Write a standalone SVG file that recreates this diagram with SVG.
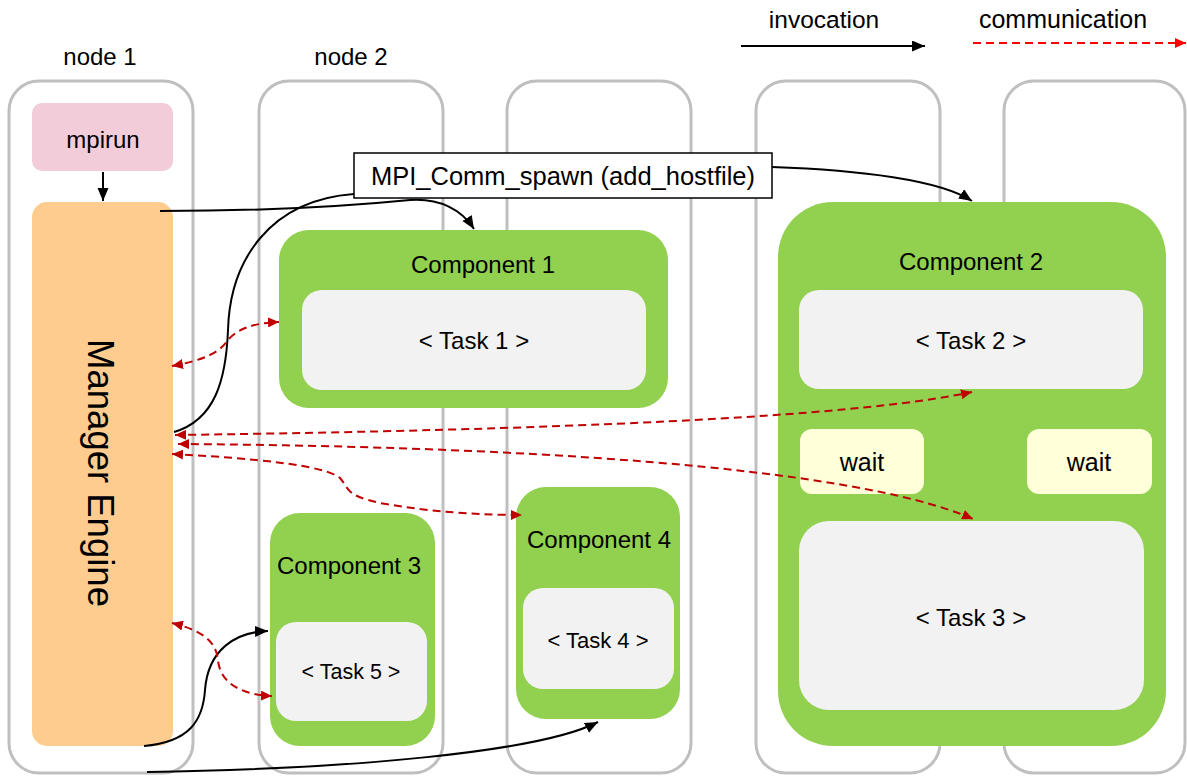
<svg xmlns="http://www.w3.org/2000/svg" width="1187" height="776" viewBox="0 0 1187 776">
<style>
  text { font-family: "Liberation Sans", Arial, sans-serif; fill: #000; text-anchor: middle; }
  .col { fill: #fff; stroke: #BFBFBF; stroke-width: 3; }
  .comp { fill: #92D050; }
  .task { fill: #F2F2F2; }
  .wait { fill: #FFFFD9; }
  .inv { fill: none; stroke: #000; stroke-width: 2; }
  .com { fill: none; stroke: #C00000; stroke-width: 2; stroke-dasharray: 8 5; }
  .t24 { font-size: 24px; }
</style>
<defs>
  <marker id="ab" markerUnits="userSpaceOnUse" markerWidth="14" markerHeight="12" refX="13" refY="5.5" orient="auto-start-reverse" viewBox="0 0 14 12">
    <path d="M0,0 L13,5.5 L0,11 Z" fill="#000"/>
  </marker>
  <marker id="ar" markerUnits="userSpaceOnUse" markerWidth="12" markerHeight="10" refX="11" refY="5" orient="auto-start-reverse" viewBox="0 0 12 10">
    <path d="M0,0 L11,5 L0,10 Z" fill="#C00000"/>
  </marker>
  <marker id="arl" markerUnits="userSpaceOnUse" markerWidth="12" markerHeight="10" refX="11" refY="5" orient="auto" viewBox="0 0 12 10">
    <path d="M0,0 L11,5 L0,10 Z" fill="#FF0000"/>
  </marker>
</defs>

<g id="legend">
  <text x="824" y="28" class="t24" style="font-size:24.5px">invocation</text>
  <path d="M741,46 L925,46" class="inv" marker-end="url(#ab)"/>
  <text x="1063" y="28" class="t24" style="font-size:25px">communication</text>
  <path d="M973,43 L1186,43" fill="none" stroke="#FF0000" stroke-width="2" stroke-dasharray="8 5" marker-end="url(#arl)"/>
</g>

<g id="node1">
  <text x="100" y="65" class="t24">node 1</text>
  <rect x="9" y="81" width="184" height="692" rx="30" class="col"/>
</g>
<g id="node2">
  <text x="351" y="65" class="t24">node 2</text>
  <rect x="259" y="81" width="184" height="692" rx="30" class="col"/>
</g>
<g id="node3">
  <rect x="507" y="81" width="184" height="692" rx="30" class="col"/>
</g>
<g id="node4">
  <rect x="756" y="81" width="184" height="692" rx="30" class="col"/>
</g>
<g id="node5">
  <rect x="1004" y="81" width="181" height="692" rx="30" class="col"/>
</g>

<g id="mpirun">
  <rect x="32" y="103" width="141" height="68" rx="10" fill="#F2CCD9"/>
  <text x="103" y="148" class="t24">mpirun</text>
</g>

<g id="manager">
  <rect x="32" y="202" width="141" height="544" rx="15" fill="#FFCC8F"/>
  <text x="0" y="0" transform="translate(88,473) rotate(90)" style="font-size:36.5px">Manager Engine</text>
</g>

<g id="component1">
  <rect x="279" y="230" width="389" height="178" rx="30" class="comp"/>
  <text x="483" y="273" class="t24">Component 1</text>
  <rect x="302" y="290" width="344" height="100" rx="20" class="task"/>
  <text x="474" y="349" class="t24">&lt; Task 1 &gt;</text>
</g>

<g id="component2">
  <rect x="778" y="202" width="388" height="544" rx="55" class="comp"/>
  <text x="971" y="270" class="t24">Component 2</text>
  <rect x="799" y="290" width="344" height="99" rx="20" class="task"/>
  <text x="971" y="349" class="t24">&lt; Task 2 &gt;</text>
  <rect x="800" y="429" width="124" height="65" rx="12" class="wait"/>
  <text x="862" y="471" style="font-size:25px">wait</text>
  <rect x="1027" y="429" width="125" height="65" rx="12" class="wait"/>
  <text x="1089" y="471" style="font-size:25px">wait</text>
  <rect x="799" y="521" width="345" height="189" rx="30" class="task"/>
  <text x="971" y="626" class="t24">&lt; Task 3 &gt;</text>
</g>

<g id="component3">
  <rect x="270" y="513" width="165" height="233" rx="30" class="comp"/>
  <text x="349" y="574" class="t24">Component 3</text>
  <rect x="276" y="622" width="151" height="99" rx="20" class="task"/>
  <text x="351" y="679" style="font-size:21.5px">&lt; Task 5 &gt;</text>
</g>

<g id="component4">
  <rect x="516" y="487" width="164" height="232" rx="30" class="comp"/>
  <text x="599" y="548" class="t24">Component 4</text>
  <rect x="523" y="588" width="151" height="101" rx="20" class="task"/>
  <text x="598" y="648" style="font-size:22px">&lt; Task 4 &gt;</text>
</g>

<g id="connectors">
  <path d="M103,172 L103,201" class="inv" marker-end="url(#ab)"/>
  <path d="M160,211 C 280,211 360,205 410,200 C 440,198 462,210 474,229" class="inv" marker-end="url(#ab)"/>
  <path d="M174,432 C 215,420 226,380 228,330 C 230,260 270,200 354,194" class="inv"/>
  <path d="M772,167 C 860,170 940,180 972,201" class="inv" marker-end="url(#ab)"/>
  <path d="M144,746 C 190,742 203,720 205,690 C 208,650 235,632 268,631" class="inv" marker-end="url(#ab)"/>
  <path d="M147,772 C 350,769 540,752 598,722" class="inv" marker-end="url(#ab)"/>

  <path d="M172,366 C 205,360 220,352 228,340 C 238,328 255,323 279,322" class="com" marker-start="url(#ar)" marker-end="url(#ar)"/>
  <path d="M175,435 C 550,430 850,418 972,392" class="com" marker-start="url(#ar)" marker-end="url(#ar)"/>
  <path d="M178,444 C 500,446 850,465 973,519" class="com" marker-start="url(#ar)" marker-end="url(#ar)"/>
  <path d="M172,454 C 250,458 325,465 340,478 C 350,490 345,495 380,503 C 430,512 480,515 522,515" class="com" marker-start="url(#ar)" marker-end="url(#ar)"/>
  <path d="M172,623 C 200,630 216,640 218,660 C 220,685 245,695 272,696" class="com" marker-start="url(#ar)" marker-end="url(#ar)"/>
</g>

<g id="spawn">
  <rect x="354" y="153" width="418" height="45" fill="#fff" stroke="#000" stroke-width="1.5"/>
  <text x="563" y="185" style="font-size:25.5px">MPI_Comm_spawn (add_hostfile)</text>
</g>
</svg>
